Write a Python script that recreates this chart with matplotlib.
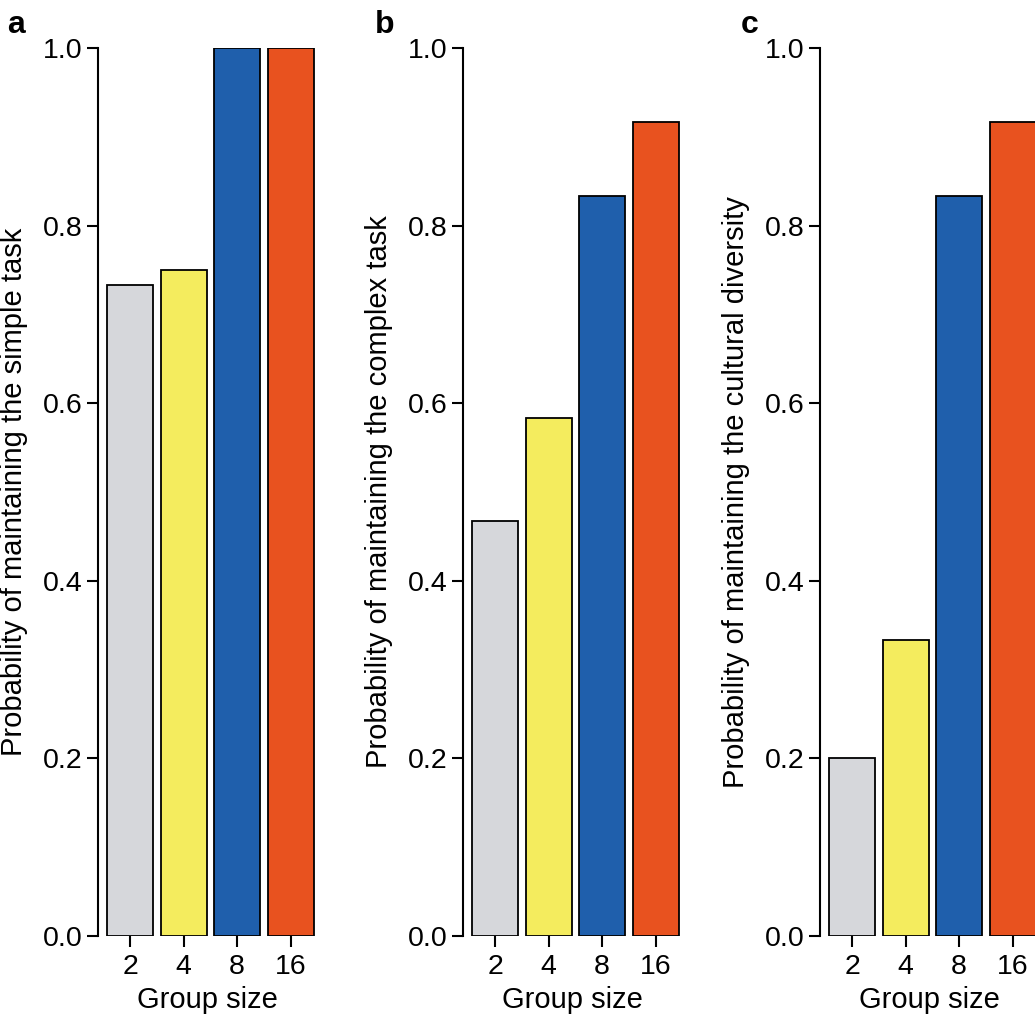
import matplotlib
matplotlib.use("Agg")
import matplotlib.pyplot as plt

plt.rcParams["font.family"] = ["Liberation Sans", "DejaVu Sans"]

# DATA
group_sizes = ["2", "4", "8", "16"]
simple_task = [0.733, 0.75, 1.0, 1.0]
complex_task = [0.467, 0.583, 0.833, 0.917]
cultural_div = [0.2, 0.333, 0.833, 0.917]
bar_colors = ["#D6D7DB", "#F4EC5E", "#1F5FAC", "#E8521F"]

panels = [
    ("a", simple_task, "Probability of maintaining the simple task"),
    ("b", complex_task, "Probability of maintaining the complex task"),
    ("c", cultural_div, "Probability of maintaining the cultural diversity"),
]

fig = plt.figure(figsize=(10.35, 10.16), dpi=100)
lefts = [0.0947, 0.4473, 0.7923]
letter_x = [0.007, 0.362, 0.716]

for i, (letter, vals, ylab) in enumerate(panels):
    ax = fig.add_axes([lefts[i], 0.0787, 0.212, 0.874])
    x = range(len(group_sizes))
    ax.bar(x, vals, width=0.86, color=bar_colors, edgecolor="black", linewidth=1.3)
    ax.set_xlim(-0.6, 3.5)
    ax.set_ylim(0, 1.0)
    ax.set_xticks(list(x))
    ax.set_xticklabels(group_sizes)
    ax.set_yticks([0, 0.2, 0.4, 0.6, 0.8, 1.0])
    ax.set_yticklabels(["0.0", "0.2", "0.4", "0.6", "0.8", "1.0"])
    for s in ["top", "right", "bottom"]:
        ax.spines[s].set_visible(False)
    ax.spines["left"].set_linewidth(1.5)
    ax.tick_params(axis="both", direction="out", length=8, width=1.5, labelsize=20.5, pad=3)
    ax.tick_params(axis="x", pad=5)
    ax.set_xlabel("Group size", fontsize=21, labelpad=4)
    ax.set_ylabel(ylab, fontsize=21, labelpad=11)
    fig.text(letter_x[i], 0.99, letter, fontsize=23, fontweight="bold", va="top", ha="left")

fig.savefig("out.png", dpi=100)
